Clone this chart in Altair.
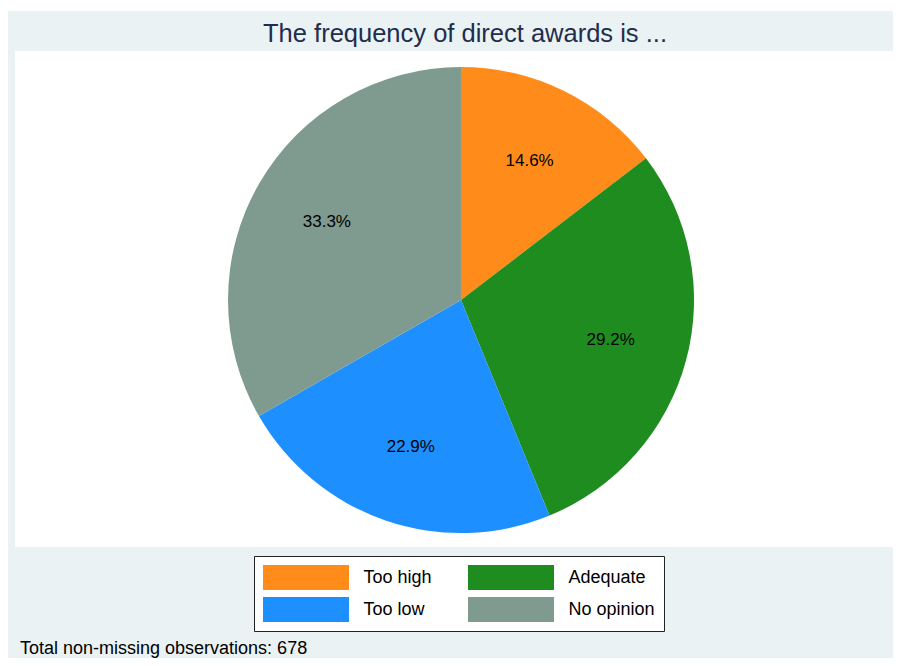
import altair as alt
import pandas as pd

categories = ["Too high", "Adequate", "Too low", "No opinion"]
percents = [14.6, 29.2, 22.9, 33.3]
colors = ["#FF8C1A", "#1F8C1F", "#1E8FFF", "#7F9A8F"]
title_text = "The frequency of direct awards is ..."
note_text = "Total non-missing observations: 678"

df = pd.DataFrame({
    "cat": categories,
    "pct": percents,
    "order": list(range(len(categories))),
    "label": [f"{p:.1f}%" for p in percents],
})

W, H = 885, 650
CX, CY, R = 453, 292, 233
FONT = "Liberation Sans"

one = alt.Data(values=[{}])

bg = alt.Chart(one).mark_rect(color="#EAF2F3").encode(
    x=alt.value(-1), x2=alt.value(W), y=alt.value(3), y2=alt.value(H)
)
panel = alt.Chart(one).mark_rect(color="white").encode(
    x=alt.value(7), x2=alt.value(W), y=alt.value(43), y2=alt.value(539)
)

base = alt.Chart(df).encode(
    theta=alt.Theta("pct:Q", stack=True),
    order=alt.Order("order:Q"),
)

arcs = base.mark_arc(radius=R, strokeWidth=0).encode(
    x=alt.value(CX),
    y=alt.value(CY),
    color=alt.Color(
        "cat:N",
        scale=alt.Scale(domain=categories, range=colors),
        sort=categories,
        legend=alt.Legend(
            title=None,
            orient="none",
            direction="horizontal",
            legendX=246,
            legendY=548,
            columns=2,
            symbolType="M-3.44,-1H3.44V1H-3.44Z",
            symbolSize=625,
            symbolOffset=30.5,
            symbolStrokeWidth=0,
            labelFontSize=18,
            labelFont=FONT,
            labelColor="black",
            labelOffset=45,
            columnPadding=36,
            rowPadding=7,
            padding=9,
            strokeColor="#222222",
            fillColor="white",
        ),
    ),
)

labels = base.mark_text(radius=155, fontSize=17, font=FONT, color="black").encode(
    x=alt.value(CX),
    y=alt.value(CY),
    text="label:N",
)

title = alt.Chart(one).mark_text(
    text=title_text, fontSize=25.5, font=FONT, color="#1F2D4E", baseline="alphabetic", align="center"
).encode(x=alt.value(457), y=alt.value(34))

note = alt.Chart(one).mark_text(
    text=note_text, fontSize=18, font=FONT, color="black", baseline="alphabetic", align="left"
).encode(x=alt.value(12), y=alt.value(646))

chart = alt.layer(bg, panel, arcs, labels, title, note).properties(
    width=W, height=H, autosize=alt.AutoSizeParams(type="none"), padding=0,
    background="white",
).configure_view(stroke=None)

chart.save("out.html", embed_options={"renderer": "svg", "actions": False})
